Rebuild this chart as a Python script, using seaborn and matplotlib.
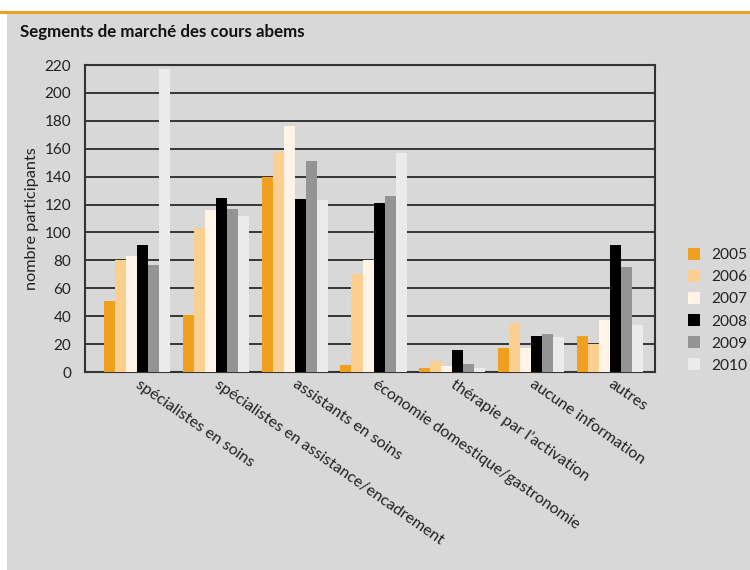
import matplotlib
matplotlib.use("Agg")
import matplotlib.pyplot as plt
from matplotlib.patches import Rectangle
from matplotlib.lines import Line2D
import seaborn as sns
import pandas as pd

categories = [
    "spécialistes en soins",
    "spécialistes en assistance/encadrement",
    "assistants en soins",
    "économie domestique/gastronomie",
    "thérapie par l’activation",
    "aucune information",
    "autres",
]
years = ["2005", "2006", "2007", "2008", "2009", "2010"]
v2005 = [51, 41, 140, 5, 3, 17, 26]
v2006 = [80, 103, 158, 70, 8, 35, 20]
v2007 = [83, 116, 176, 80, 4, 17, 37]
v2008 = [91, 125, 124, 121, 16, 26, 91]
v2009 = [77, 117, 151, 126, 6, 27, 75]
v2010 = [217, 112, 123, 157, 3, 25, 34]
yticks = list(range(0, 221, 20))

colors = ["#f0a01e", "#fbcf8f", "#fff4e6", "#000000", "#949494", "#ebebeb"]
bg = "#d8d8d8"

rows = []
for yr, vals in zip(years, [v2005, v2006, v2007, v2008, v2009, v2010]):
    for c, v in zip(categories, vals):
        rows.append({"segment": c, "année": yr, "participants": v})
df = pd.DataFrame(rows)

sns.set_theme(style="white")
plt.rcParams["font.family"] = ["Lato", "DejaVu Sans"]

fig = plt.figure(figsize=(7.5, 5.7), dpi=100)
fig.patch.set_facecolor("white")
fig.add_artist(Rectangle((7 / 750, 0), 1, 1 - 13 / 570, transform=fig.transFigure,
                         facecolor=bg, edgecolor="none", zorder=0))
fig.add_artist(Line2D([0, 1], [1 - 12 / 570] * 2, transform=fig.transFigure,
                      color="#f0a01e", lw=2.2, zorder=1))
fig.text(20 / 750, 1 - 32 / 570, "Segments de marché des cours abems",
         fontsize=12.2, fontweight="bold", color="#111111", va="center", ha="left")

ax = fig.add_axes([85 / 750, 1 - 372 / 570, 570 / 750, 307 / 570])
ax.set_facecolor(bg)
sns.barplot(data=df, x="segment", y="participants", hue="année",
            palette=colors, width=0.84, saturation=1, ax=ax, zorder=3,
            edgecolor="none", linewidth=0)

ax.set_xlim(-0.66, 6.57)
ax.set_ylim(0, 220)
ax.set_yticks(yticks)
ax.set_yticklabels([str(t) for t in yticks], fontsize=11, color="#222222")
ax.yaxis.grid(True, color="#2a2a2a", lw=1.3, zorder=1)
ax.set_axisbelow(True)
ax.tick_params(axis="y", length=0, pad=10)
ax.tick_params(axis="x", length=0, pad=8)
for s in ax.spines.values():
    s.set_visible(True)
    s.set_color("#333333")
    s.set_linewidth(1.5)

ax.set_xlabel("")
ax.set_ylabel("nombre participants", fontsize=11.7, color="#222222", labelpad=4)
ax.set_xticks(range(len(categories)))
ax.set_xticklabels(categories, rotation=-35, ha="left", va="center",
                   rotation_mode="anchor", fontsize=11.5, color="#222222")

handles, labels = ax.get_legend_handles_labels()
ax.legend_.remove()
leg = fig.legend(handles, labels, loc="upper left",
                 bbox_to_anchor=(680 / 750, 1 - 240 / 570), frameon=False,
                 fontsize=11.2, handlelength=0.8, handleheight=0.8,
                 handletextpad=0.7, labelspacing=0.5, borderpad=0)
for t in leg.get_texts():
    t.set_color("#222222")

fig.savefig("out.png", dpi=100, facecolor=fig.get_facecolor())
